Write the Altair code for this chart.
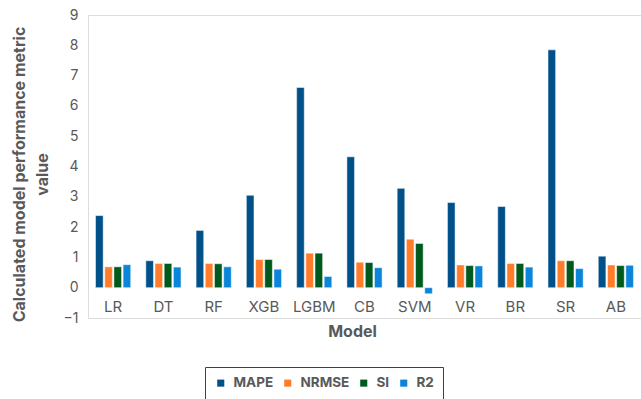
import altair as alt
import pandas as pd

models = ["LR", "DT", "RF", "XGB", "LGBM", "CB", "SVM", "VR", "BR", "SR", "AB"]
metrics = ["MAPE", "NRMSE", "SI", "R2"]
mape = [2.38, 0.89, 1.89, 3.05, 6.61, 4.32, 3.28, 2.81, 2.68, 7.85, 1.04]
nrmse = [0.69, 0.80, 0.80, 0.93, 1.14, 0.84, 1.60, 0.75, 0.80, 0.89, 0.75]
si = [0.69, 0.80, 0.79, 0.93, 1.14, 0.83, 1.46, 0.73, 0.80, 0.89, 0.73]
r2 = [0.76, 0.68, 0.69, 0.61, 0.37, 0.66, -0.20, 0.72, 0.68, 0.63, 0.74]
colors = ["#00508A", "#FF7C2A", "#005A1E", "#0A85D9"]

rows = []
for series_name, vals in zip(metrics, [mape, nrmse, si, r2]):
    for m, v in zip(models, vals):
        rows.append({"Model": m, "Metric": series_name, "Value": v})
df = pd.DataFrame(rows)

FONT = "Inter"
GREY = "#595959"

chart = alt.Chart(df).mark_bar(stroke="white", strokeWidth=0.5).encode(
    x=alt.X("Model:N", sort=models,
            scale=alt.Scale(paddingInner=0.30, paddingOuter=0.15),
            axis=alt.Axis(title="Model", labelAngle=0, labelPadding=-19, tickSize=0,
                          ticks=False, domain=False, labelFont=FONT, labelFontSize=15,
                          labelColor=GREY, titleFont=FONT, titleFontSize=16,
                          titleFontWeight="bold", titleColor=GREY,
                          titleX=264, titleY=13, titleBaseline="middle")),
    xOffset=alt.XOffset("Metric:N", sort=metrics, scale=alt.Scale(paddingInner=0.17)),
    y=alt.Y("Value:Q", scale=alt.Scale(domain=[-1, 9], nice=False),
            axis=alt.Axis(title=["Calculated model performance metric", "value"],
                          values=list(range(-1, 10)), grid=False, ticks=False, tickSize=0,
                          domain=False, labelPadding=10, labelFont=FONT, labelFontSize=14,
                          labelColor=GREY, titleFont=FONT, titleFontSize=16,
                          titleFontWeight="bold", titleColor=GREY, titleLineHeight=23,
                          titleAngle=-90, titleBaseline="middle", titleAlign="center",
                          titleX=-69, titleY=159)),
    color=alt.Color("Metric:N", sort=metrics,
                    scale=alt.Scale(domain=metrics, range=colors),
                    legend=alt.Legend(title=None, orient="none", legendX=117, legendY=352,
                                      direction="horizontal", columns=4, symbolType="square",
                                      symbolSize=50, symbolStrokeWidth=0,
                                      labelFont=FONT, labelFontSize=13.5, labelFontWeight="bold",
                                      labelColor=GREY, columnPadding=7, padding=9,
                                      strokeColor="#404040", fillColor="white",
                                      cornerRadius=0, labelOffset=6)),
).properties(
    width=553, height=303,
    autosize=alt.AutoSizeParams(type="none"),
    padding={"left": 88, "top": 15, "right": 0, "bottom": 81},
).configure_view(
    stroke="#404040", strokeWidth=1.5
).configure(background="white")

chart.save("out.html", embed_options={"renderer": "svg", "actions": False})
